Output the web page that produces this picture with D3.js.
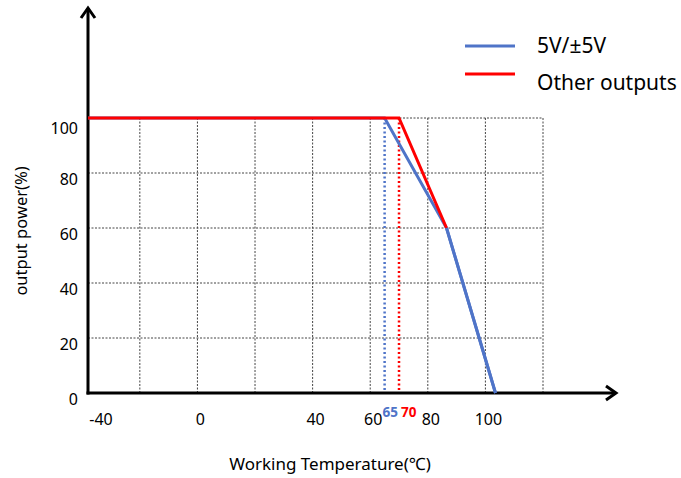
<!DOCTYPE html>
<html>
<head>
  <meta charset="utf-8">
  <title>Derating curve</title>
  <script src="https://cdn.jsdelivr.net/npm/d3@7/dist/d3.min.js"></script>
  <style>
    body { margin: 0; background: #fff; font-family: "Noto Sans", sans-serif; }
  </style>
</head>
<body>
  <main id="container"></main>
  <script type="module">
    // derating curves: [temperature, output %]
    const blueSeries = [[-38, 100], [65, 100], [86.5, 60], [103.5, 0]];
    const redSeries = [[-38, 100], [70, 100], [86.5, 60]];
    const xTicks = [-40, 0, 40, 60, 80, 100];
    const markTicks = [65, 70];
    const xGrid = [-20, 0, 20, 40, 60, 80, 100, 120];
    const yTicks = [0, 20, 40, 60, 80, 100];
    const legendNames = ["5V/\u00B15V", "Other outputs"];
    const colors = ["#4f74c8", "#ff0000"];

    const width = 681, height = 478;
    const svg = d3.select("#container").append("svg")
      .attr("width", width).attr("height", height);

    const x = d3.scaleLinear().domain([-38, 120]).range([88, 543]);
    const y = d3.scaleLinear().domain([0, 100]).range([393, 118]);

    // dotted grid
    const grid = svg.append("g").attr("stroke", "#444").attr("stroke-width", 1)
      .attr("stroke-dasharray", "2,1.5");
    grid.selectAll("line.h").data(yTicks.slice(1)).join("line").attr("class", "h")
      .attr("x1", x(-38)).attr("x2", x(120))
      .attr("y1", d => y(d)).attr("y2", d => y(d));
    grid.selectAll("line.v").data(xGrid).join("line").attr("class", "v")
      .attr("x1", d => x(d)).attr("x2", d => x(d))
      .attr("y1", y(0)).attr("y2", y(100));

    // marker lines at 65 / 70
    svg.selectAll("line.mark").data(markTicks).join("line").attr("class", "mark")
      .attr("x1", d => x(d)).attr("x2", d => x(d))
      .attr("y1", y(100)).attr("y2", y(0))
      .attr("stroke", (d, i) => colors[i])
      .attr("stroke-width", 2.5)
      .attr("stroke-dasharray", "2,2.5");

    // axes with arrows
    const ax = svg.append("g").attr("stroke", "#000").attr("stroke-width", 3).attr("fill", "none");
    ax.append("line").attr("x1", x(-38)).attr("x2", x(-38)).attr("y1", y(0) + 1.5).attr("y2", 8);
    ax.append("line").attr("x1", x(-38) - 1.5).attr("x2", 616).attr("y1", y(0)).attr("y2", y(0));
    ax.append("path").attr("d", `M${x(-38) - 7},18 L${x(-38)},8 L${x(-38) + 7},18`)
      .attr("stroke-linejoin", "miter");
    ax.append("path").attr("d", `M606,${y(0) - 7} L616,${y(0)} L606,${y(0) + 7}`)
      .attr("stroke-linejoin", "miter");

    // curves
    const line = d3.line().x(d => x(d[0])).y(d => y(d[1]));
    svg.append("path").datum(blueSeries).attr("d", line)
      .attr("fill", "none").attr("stroke", colors[0]).attr("stroke-width", 3);
    svg.append("path").datum(redSeries).attr("d", line)
      .attr("fill", "none").attr("stroke", colors[1]).attr("stroke-width", 3);
    svg.append("path").datum(blueSeries.slice(2)).attr("d", line)
      .attr("fill", "none").attr("stroke", colors[0]).attr("stroke-width", 3);

    // y tick labels
    svg.selectAll("text.yt").data(yTicks).join("text").attr("class", "yt")
      .attr("x", 78).attr("y", d => y(d) + (d === 100 ? 16 : 12))
      .attr("text-anchor", "end").attr("font-size", 16)
      .text(d => d);

    // x tick labels
    svg.selectAll("text.xt").data(xTicks).join("text").attr("class", "xt")
      .attr("x", d => d === -40 ? x(-38) + 13 : x(d) + 3)
      .attr("y", 425)
      .attr("text-anchor", "middle").attr("font-size", 16)
      .text(d => d);
    svg.selectAll("text.mt").data(markTicks).join("text").attr("class", "mt")
      .attr("x", (d, i) => x(d) + (i ? 2 : -2))
      .attr("y", 417)
      .attr("font-size", 13.5).attr("font-weight", "bold")
      .attr("fill", (d, i) => colors[i])
      .text(d => d);

    // axis titles
    svg.append("text").attr("x", 330).attr("y", 470)
      .attr("text-anchor", "middle").attr("font-size", 17)
      .text("Working Temperature(\u2103)");
    svg.append("text").attr("transform", "translate(27,231) rotate(-90)")
      .attr("text-anchor", "middle").attr("font-size", 16.5)
      .text("output power(%)");

    // legend
    const leg = svg.selectAll("g.leg").data(legendNames).join("g").attr("class", "leg")
      .attr("transform", (d, i) => `translate(465,${46 + i * 28})`);
    leg.append("line").attr("x1", 0).attr("x2", 50)
      .attr("stroke", (d, i) => colors[i]).attr("stroke-width", 3);
    leg.append("text").attr("x", 72).attr("y", (d, i) => i ? 16 : 7)
      .attr("font-size", 21).text(d => d);
  </script>
</body>
</html>
